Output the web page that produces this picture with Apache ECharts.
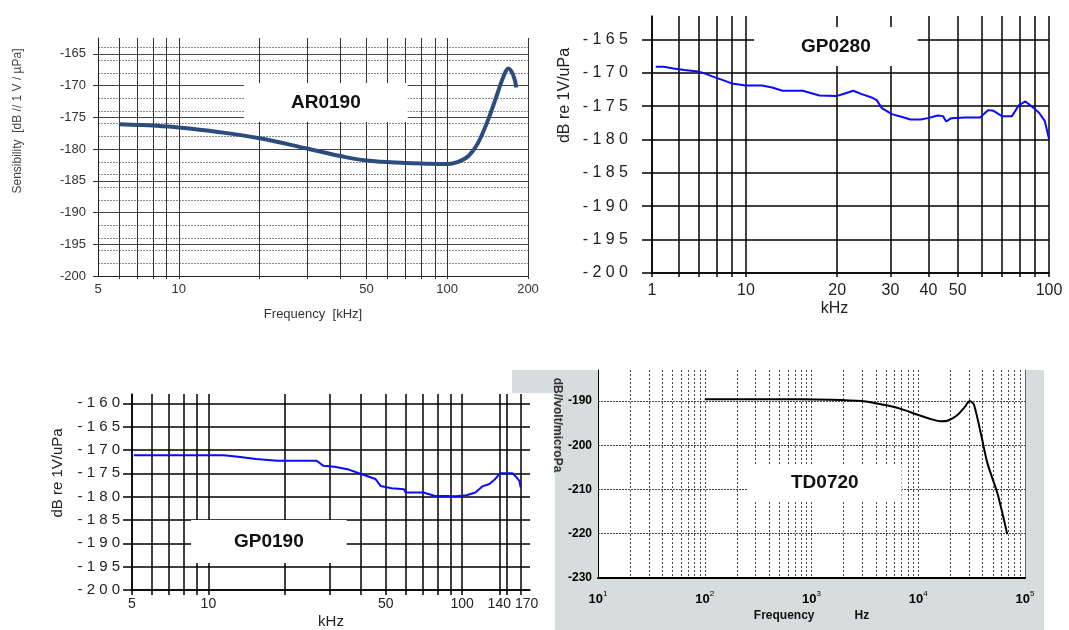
<!DOCTYPE html>
<html>
<head>
<meta charset="utf-8">
<script src="https://cdn.jsdelivr.net/npm/echarts@6/dist/echarts.min.js"></script>
<style>
  html, body { margin: 0; padding: 0; background: #fff; }
  #chart { width: 1069px; height: 630px; }
</style>
</head>
<body>
<div id="chart"></div>
<script>
// AR0190 (kHz, dB)
var arFreq = [6, 7, 8, 10, 14, 20, 30, 40, 50, 70, 84, 100, 110, 120, 130, 142, 154, 162, 169, 176, 181];
var arDb = [-176.1, -176.2, -176.3, -176.6, -177.3, -178.3, -179.9, -181.1, -181.8, -182.2, -182.3, -182.35, -182.0, -181.1, -179.1, -175.4, -171.2, -168.6, -167.3, -168.3, -170.3];
var arTicksX = [5, 10, 50, 100, 200];
var arGridX = [6, 7, 8, 9, 10, 20, 30, 40, 50, 60, 70, 80, 90, 100, 200];
var arTicksY = [-200, -195, -190, -185, -180, -175, -170, -165];

// GP0280
var gp28Freq = [5.04, 5.36, 5.77, 6.27, 6.95, 7.3, 7.9, 8.4, 8.98, 10, 11.3, 12.2, 13.2, 15.4, 17.5, 19.9, 21.2, 22.6, 24.1, 26.0, 27.0, 28.1, 30.3, 33.2, 34.9, 37.8, 39.8, 43.0, 44.7, 45.8, 47.6, 52.8, 59.2, 63.1, 65.6, 69.9, 75.5, 79.4, 83.6, 89.2, 92.7, 96.8, 100];
var gp28Db = [-169.1, -169.1, -169.35, -169.6, -169.8, -170.1, -170.7, -171.1, -171.6, -171.9, -171.9, -172.2, -172.7, -172.7, -173.4, -173.5, -173.1, -172.7, -173.2, -173.7, -174.1, -175.3, -176.2, -176.7, -177.0, -177.0, -176.8, -176.4, -176.5, -177.3, -176.8, -176.7, -176.7, -175.6, -175.7, -176.5, -176.5, -174.9, -174.3, -175.3, -176.0, -177.2, -179.9];
var gp28TicksX = [4.9, 10, 20, 30, 40, 50, 100];
var gp28GridX = [4.9, 6, 7, 8, 9, 10, 20, 30, 40, 50, 60, 70, 80, 90, 100];
var gp28TicksY = [-200, -195, -190, -185, -180, -175, -170, -165];

// GP0190
var gp19Freq = [5.08, 11.5, 13.1, 15.4, 18.7, 26.7, 28.4, 31.4, 35.7, 41.3, 45.5, 47.7, 52.7, 59.0, 59.9, 70.3, 77.7, 94.5, 103.9, 112.7, 120, 128, 135, 141, 158, 164, 168, 170];
var gp19Db = [-171.1, -171.1, -171.45, -171.95, -172.3, -172.3, -173.4, -173.6, -174.2, -175.4, -176.2, -177.7, -178.2, -178.4, -179.1, -179.1, -179.8, -179.9, -179.7, -179.1, -177.8, -177.3, -176.2, -175.0, -175.0, -175.9, -176.6, -178.0];
var gp19TicksX = [5, 10, 50, 100, 140, 170];
var gp19GridX = [5, 6, 7, 8, 9, 10, 20, 30, 40, 50, 60, 70, 80, 90, 100, 140, 150, 170];
var gp19TicksY = [-200, -195, -190, -185, -180, -175, -170, -165, -160];

// TD0720 (Hz)
var tdFreq = [100, 787, 1500, 2950, 3955, 5310, 7110, 9530, 12790, 16500, 19100, 22970, 27000, 30400, 33200, 38460, 44500, 55400, 68200];
var tdDb = [-189.6, -189.6, -189.7, -190.0, -190.5, -191.1, -191.9, -193.0, -194.0, -194.6, -194.4, -193.3, -191.5, -190.0, -190.8, -197.2, -204.1, -211.0, -220.1];
var tdGridX = [20, 30, 40, 50, 60, 70, 80, 90, 100, 200, 300, 400, 500, 600, 700, 800, 900, 1000,
  2000, 3000, 4000, 5000, 6000, 7000, 8000, 9000, 10000, 20000, 30000, 40000, 50000, 60000, 70000, 80000, 90000];
var tdTicksY = [-230, -220, -210, -200, -190];

function pairs(xs, ys) {
  return xs.map(function (x, i) { return [x, ys[i]]; });
}
function spaced(v) {
  return String(v).split('').join(' ');
}

var narrow = "'Liberation Sans Narrow', 'Liberation Sans', sans-serif";

var myChart = echarts.init(document.getElementById('chart'));
myChart.setOption({
  animation: false,
  textStyle: { fontFamily: "'Liberation Sans', Arial, sans-serif" },
  graphic: [
    // grey frame of the TD0720 picture
    { type: 'rect', z: -10, shape: { x: 555, y: 370, width: 489, height: 260 }, style: { fill: '#d6dddd' } },
    { type: 'rect', z: -10, shape: { x: 512, y: 370, width: 43, height: 23 }, style: { fill: '#d6dddd' } }
  ],
  title: [
    { text: 'AR0190', left: 244, top: 83, padding: [10, 47], backgroundColor: '#fff',
      textStyle: { fontSize: 19, lineHeight: 19, fontWeight: 'bold', color: '#111' } },
    { text: 'GP0280', left: 754, top: 27, padding: [10, 47], backgroundColor: '#fff',
      textStyle: { fontSize: 19, lineHeight: 19, fontWeight: 'bold', color: '#111' } },
    { text: 'GP0190', left: 191, top: 520, padding: [12, 43], backgroundColor: '#fff',
      textStyle: { fontSize: 19, lineHeight: 19, fontWeight: 'bold', color: '#111' } },
    { text: 'TD0720', left: 748, top: 464, padding: [9, 43], backgroundColor: '#fff',
      textStyle: { fontSize: 19, lineHeight: 19, fontWeight: 'bold', color: '#111' } }
  ],
  grid: [
    { left: 98, top: 38, width: 430, height: 238 },
    { left: 652, top: 16, width: 397, height: 257 },
    { left: 132, top: 394, width: 398, height: 197 },
    { left: 598, top: 370, width: 427, height: 208, show: true, backgroundColor: '#fff', borderWidth: 0 }
  ],
  xAxis: [
    {
      gridIndex: 0, type: 'log', logBase: 10, min: 5, max: 200,
      name: 'Frequency  [kHz]', nameLocation: 'middle', nameGap: 32,
      nameTextStyle: { fontSize: 13, color: '#333' },
      axisLine: { lineStyle: { color: '#222' } },
      axisTick: { length: 3, customValues: arGridX, lineStyle: { color: '#333' } },
      axisLabel: { customValues: arTicksX, fontSize: 13, color: '#333', margin: 7 },
      splitLine: { show: true, lineStyle: { color: '#333', width: 1 } }
    },
    {
      gridIndex: 1, type: 'log', logBase: 10, min: 4.9, max: 100,
      name: 'kHz', nameLocation: 'middle', nameGap: 28,
      nameTextStyle: { fontSize: 16, color: '#222', padding: [0, 32, 0, 0] },
      axisLine: { lineStyle: { color: '#000', width: 1.5 } },
      axisTick: { length: 4, customValues: gp28GridX, lineStyle: { color: '#000', width: 1.5 } },
      axisLabel: {
        customValues: gp28TicksX, fontSize: 16, color: '#222', margin: 10,
        showMinLabel: true, showMaxLabel: true, hideOverlap: false,
        formatter: function (v) { return v < 5 ? '1' : String(Math.round(v)); }
      },
      splitLine: { show: true, lineStyle: { color: '#000', width: 1.5 } }
    },
    {
      gridIndex: 2, type: 'log', logBase: 10, min: 5, max: 185,
      name: 'kHz', nameLocation: 'middle', nameGap: 24,
      nameTextStyle: { fontSize: 15, color: '#222' },
      axisLine: { lineStyle: { color: '#000', width: 1.5 } },
      axisTick: { length: 5, customValues: gp19GridX, lineStyle: { color: '#000', width: 1.5 } },
      axisLabel: {
        customValues: gp19TicksX, fontSize: 14, color: '#222', margin: 7,
        showMinLabel: true, showMaxLabel: true, hideOverlap: false,
        formatter: function (v) {
          return v === 170 ? '{r|170}' : String(Math.round(v));
        },
        rich: { r: { fontSize: 14, color: '#222', padding: [0, 0, 0, 12] } }
      },
      splitLine: { show: true, lineStyle: { color: '#000', width: 1.5 } }
    },
    {
      gridIndex: 3, type: 'log', logBase: 10, min: 10, max: 100000,
      name: 'Frequency            Hz', nameLocation: 'middle', nameGap: 32,
      nameTextStyle: { fontSize: 12, fontWeight: 'bold', fontFamily: narrow, color: '#111' },
      axisLine: { lineStyle: { color: '#000', width: 2 } },
      axisTick: { show: false, customValues: tdGridX },
      axisLabel: {
        margin: 12,
        formatter: function (v) {
          return '{b|10}{s|' + Math.round(Math.log10(v)) + '}';
        },
        rich: {
          b: { fontSize: 13, fontWeight: 'bold', fontFamily: narrow, color: '#000' },
          s: { fontSize: 8, fontFamily: narrow, color: '#000', padding: [0, 0, 10, 0] }
        }
      },
      splitLine: { show: true, lineStyle: { color: '#444', width: 1, type: [2, 2] } }
    }
  ],
  yAxis: [
    {
      gridIndex: 0, type: 'value', min: -200, max: -162.5,
      name: 'Sensibility  [dB // 1 V / µPa]', nameLocation: 'middle', nameGap: 74,
      nameTextStyle: { fontSize: 12, color: '#444', padding: [0, 0, 0, 72] },
      axisLine: { show: true, lineStyle: { color: '#222' } },
      axisTick: { show: true, length: 5, customValues: arTicksY, lineStyle: { color: '#333' } },
      axisLabel: { customValues: arTicksY, fontSize: 13, color: '#333', margin: 12 },
      splitLine: { show: true, lineStyle: { color: '#444', width: 1 } },
      minorTick: { show: false, splitNumber: 5 },
      minorSplitLine: { show: true, lineStyle: { color: '#888', width: 1.2, type: [2, 1] } }
    },
    {
      gridIndex: 1, type: 'value', min: -200, max: -161.5,
      name: 'dB re 1V/uPa', nameLocation: 'middle', nameGap: 79,
      nameTextStyle: { fontSize: 16, color: '#222', padding: [0, 0, 0, 98] },
      axisLine: { show: true, lineStyle: { color: '#000', width: 1.5 } },
      axisTick: { show: true, length: 10, customValues: gp28TicksY, lineStyle: { color: '#000', width: 1.5 } },
      axisLabel: { customValues: gp28TicksY, fontSize: 16, color: '#222', margin: 24, formatter: spaced },
      splitLine: { show: true, lineStyle: { color: '#000', width: 1.5 } }
    },
    {
      gridIndex: 2, type: 'value', min: -200, max: -158,
      name: 'dB re 1V/uPa', nameLocation: 'middle', nameGap: 67,
      nameTextStyle: { fontSize: 15, color: '#222', padding: [0, 0, 0, 38] },
      axisLine: { show: true, lineStyle: { color: '#000', width: 1.5 } },
      axisTick: { show: true, length: 9, customValues: gp19TicksY, lineStyle: { color: '#000', width: 1.5 } },
      axisLabel: { customValues: gp19TicksY, fontSize: 15, color: '#222', margin: 12, formatter: spaced },
      splitLine: { show: true, lineStyle: { color: '#000', width: 1.5 } }
    },
    {
      gridIndex: 3, type: 'value', min: -230, max: -183,
      name: 'dB//volt/microPa', nameLocation: 'middle', nameGap: 35, nameRotate: -90,
      nameTextStyle: { fontSize: 12, fontWeight: 'bold', fontFamily: narrow, color: '#333', padding: [0, 98, 0, 0] },
      axisLine: { show: true, lineStyle: { color: '#000', width: 1 } },
      axisTick: { show: false, customValues: tdTicksY },
      axisLabel: { customValues: tdTicksY, fontSize: 12, fontWeight: 'bold', fontFamily: narrow, color: '#000', margin: 6 },
      splitLine: { show: true, lineStyle: { color: '#444', width: 1, type: [2, 1] } }
    },
    {
      gridIndex: 3, type: 'value', position: 'right', min: -230, max: -183,
      axisLine: { show: true, lineStyle: { color: '#666', width: 1 } },
      axisTick: { show: false }, axisLabel: { show: false }, splitLine: { show: false }
    }
  ],
  series: [
    {
      name: 'AR0190', type: 'line', xAxisIndex: 0, yAxisIndex: 0,
      data: pairs(arFreq, arDb), smooth: 0.4, showSymbol: false,
      lineStyle: { color: '#2b4c7c', width: 4 }, z: 5
    },
    {
      name: 'GP0280', type: 'line', xAxisIndex: 1, yAxisIndex: 1,
      data: pairs(gp28Freq, gp28Db), showSymbol: false,
      lineStyle: { color: '#0a0aff', width: 2 }, z: 5
    },
    {
      name: 'GP0190', type: 'line', xAxisIndex: 2, yAxisIndex: 2,
      data: pairs(gp19Freq, gp19Db), showSymbol: false,
      lineStyle: { color: '#0a0aff', width: 2 }, z: 5
    },
    {
      name: 'TD0720', type: 'line', xAxisIndex: 3, yAxisIndex: 3,
      data: pairs(tdFreq, tdDb), smooth: 0.25, showSymbol: false,
      lineStyle: { color: '#000', width: 2 }, z: 5
    }
  ]
});
</script>
</body>
</html>
